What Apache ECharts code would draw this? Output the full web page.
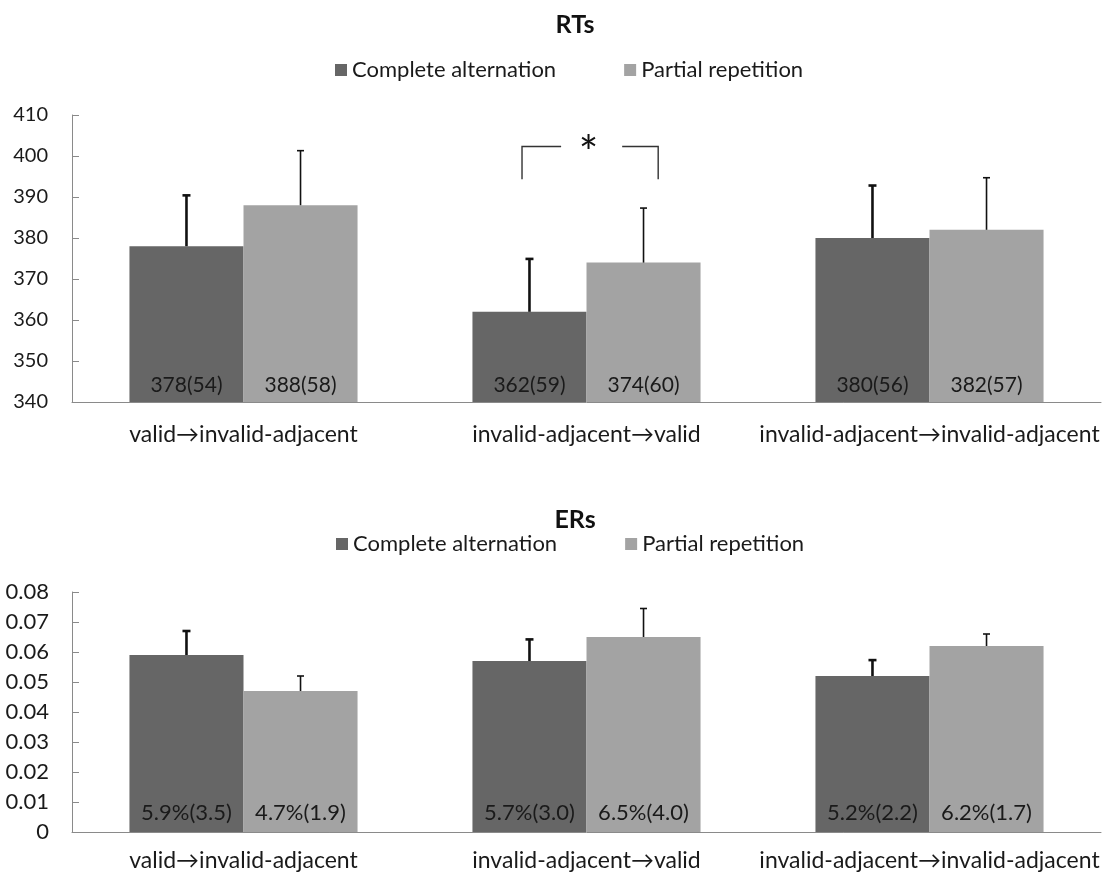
<!DOCTYPE html>
<html>
<head>
<meta charset="utf-8">
<script src="https://cdn.jsdelivr.net/npm/echarts@6/dist/echarts.min.js"></script>
<style>
  html, body { margin: 0; padding: 0; background: #fff; }
  #chart { width: 1103px; height: 876px; }
</style>
</head>
<body>
<div id="chart"></div>
<script>
// Condition labels shared by both panels
const categories = ['valid→invalid-adjacent', 'invalid-adjacent→valid', 'invalid-adjacent→invalid-adjacent'];
const seriesNames = ['Complete alternation', 'Partial repetition'];

// Reaction times (ms): means, SDs (printed in bars), error-bar lengths
const rtComplete = [378, 362, 380];
const rtPartial = [388, 374, 382];
const rtCompleteSD = [54, 59, 56];
const rtPartialSD = [58, 60, 57];
const rtCompleteErr = [12.4, 12.9, 12.8];
const rtPartialErr = [13.3, 13.3, 12.7];

// Error rates (proportion): means, SDs in percent, error-bar lengths
const erComplete = [0.059, 0.057, 0.052];
const erPartial = [0.047, 0.065, 0.062];
const erCompleteSD = [3.5, 3.0, 2.2];
const erPartialSD = [1.9, 4.0, 1.7];
const erCompleteErr = [0.008, 0.0072, 0.0053];
const erPartialErr = [0.005, 0.0095, 0.004];

// Axis tick values
const rtTicks = { min: 340, max: 410, interval: 10 };
const erTicks = { min: 0, max: 0.08, interval: 0.01 };

const FONT = 'Lato, "DejaVu Sans", sans-serif';
const DARK = '#666666';
const LIGHT = '#a3a3a3';
const AXIS = '#8a8a8a';
const TEXT = '#1a1a1a';
const GAP = 0.335;                 // category gap fraction
const HALF = (1 - GAP) / 4;        // offset of each bar centre from category centre

function errorBars(offsetFrac, lineW, capW) {
  return function (params, api) {
    const idx = api.value(0);
    const v = api.value(1);
    const e = api.value(2);
    const band = api.size([1, 0])[0];
    const base = api.coord([idx, v]);
    const x = base[0] + offsetFrac * band;
    const yTop = api.coord([idx, v + e])[1];
    const style = { stroke: '#111', lineWidth: lineW };
    return {
      type: 'group',
      children: [
        { type: 'line', shape: { x1: x, y1: base[1], x2: x, y2: yTop }, style },
        { type: 'line', shape: { x1: x - capW / 2, y1: yTop, x2: x + capW / 2, y2: yTop }, style }
      ]
    };
  };
}

function xAxis(gridIndex, margin) {
  return {
    type: 'category', gridIndex, data: categories,
    axisLine: { lineStyle: { color: AXIS, width: 1 } },
    axisTick: { inside: true, length: 8, interval: 0, lineStyle: { color: AXIS } },
    axisLabel: { interval: 0, color: TEXT, fontSize: 23, fontFamily: FONT, margin }
  };
}

function yAxis(gridIndex, t, fmt, size, margin) {
  return {
    type: 'value', gridIndex, min: t.min, max: t.max, interval: t.interval,
    splitLine: { show: false },
    axisLine: { show: true, lineStyle: { color: AXIS, width: 1 } },
    axisTick: { show: true, inside: true, length: 7, lineStyle: { color: AXIS } },
    axisLabel: { color: TEXT, fontSize: size, fontFamily: FONT, margin, formatter: fmt }
  };
}

function barSeries(name, color, data, idx, labelFn, dist, size) {
  return {
    name, type: 'bar', xAxisIndex: idx, yAxisIndex: idx, data,
    barGap: '0%', barCategoryGap: (GAP * 100) + '%',
    itemStyle: { color },
    label: {
      show: true, position: 'insideBottom', distance: dist,
      color: TEXT, fontSize: size, fontFamily: FONT,
      formatter: p => labelFn(p.value, p.dataIndex)
    },
    z: 2
  };
}

function errSeries(vals, errs, idx, offset, lw, cap) {
  return {
    type: 'custom', xAxisIndex: idx, yAxisIndex: idx, z: 4, silent: true,
    renderItem: errorBars(offset, lw, cap),
    data: vals.map((v, i) => [i, v, errs[i]])
  };
}

function legend(top, left) {
  return {
    data: seriesNames, left, top, icon: 'rect', itemWidth: 12, itemHeight: 12,
    itemGap: 68, selectedMode: false,
    textStyle: { fontSize: 22, color: TEXT, fontFamily: FONT }
  };
}

const chart = echarts.init(document.getElementById('chart'), null, { renderer: 'canvas' });

const option = {
  backgroundColor: '#ffffff',
  animation: false,
  textStyle: { fontFamily: FONT },
  title: [
    { text: 'RTs', left: 570, top: 7, textAlign: 'center',
      textStyle: { fontSize: 25, fontWeight: 'bold', color: '#111', fontFamily: FONT } },
    { text: 'ERs', left: 570, top: 502, textAlign: 'center',
      textStyle: { fontSize: 25, fontWeight: 'bold', color: '#111', fontFamily: FONT } }
  ],
  legend: [legend(54, 330), legend(528, 331)],
  grid: [
    { left: 72, right: 2, top: 115, height: 287 },
    { left: 72, right: 2, top: 592, height: 240 }
  ],
  xAxis: [xAxis(0, 21), xAxis(1, 17)],
  yAxis: [
    yAxis(0, rtTicks, v => String(v), 20, 24),
    yAxis(1, erTicks, v => (v === 0 ? '0' : v.toFixed(2)), 22, 23)
  ],
  series: [
    barSeries(seriesNames[0], DARK, rtComplete, 0, (v, i) => v + '(' + rtCompleteSD[i] + ')', 6, 21),
    barSeries(seriesNames[1], LIGHT, rtPartial, 0, (v, i) => v + '(' + rtPartialSD[i] + ')', 6, 21),
    errSeries(rtComplete, rtCompleteErr, 0, -HALF, 2.6, 8),
    errSeries(rtPartial, rtPartialErr, 0, HALF, 1.6, 7),
    // significance bracket over the middle pair
    {
      type: 'custom', xAxisIndex: 0, yAxisIndex: 0, z: 5, silent: true,
      data: [[1, 394.3, 402.3]],
      renderItem: function (params, api) {
        const band = api.size([1, 0])[0];
        const c = api.coord([api.value(0), api.value(2)]);
        const yLow = api.coord([api.value(0), api.value(1)])[1];
        const xl = c[0] - 0.188 * band, xli = c[0] - 0.074 * band;
        const xr = c[0] + 0.209 * band, xri = c[0] + 0.104 * band;
        const style = { stroke: '#333', lineWidth: 1.4, fill: null };
        return {
          type: 'group',
          children: [
            { type: 'polyline', shape: { points: [[xl, yLow], [xl, c[1]], [xli, c[1]]] }, style },
            { type: 'polyline', shape: { points: [[xri, c[1]], [xr, c[1]], [xr, yLow]] }, style },
            { type: 'text', x: c[0] + 0.006 * band, y: c[1] + 8,
              style: { text: '*', fontSize: 46, fontFamily: FONT, fill: '#111',
                       align: 'center', verticalAlign: 'middle' } }
          ]
        };
      }
    },
    barSeries(seriesNames[0], DARK, erComplete, 1,
      (v, i) => (v * 100).toFixed(1) + '%(' + erCompleteSD[i].toFixed(1) + ')', 8, 22),
    barSeries(seriesNames[1], LIGHT, erPartial, 1,
      (v, i) => (v * 100).toFixed(1) + '%(' + erPartialSD[i].toFixed(1) + ')', 8, 22),
    errSeries(erComplete, erCompleteErr, 1, -HALF, 2.6, 8),
    errSeries(erPartial, erPartialErr, 1, HALF, 1.6, 7)
  ]
};

chart.setOption(option);
</script>
</body>
</html>
